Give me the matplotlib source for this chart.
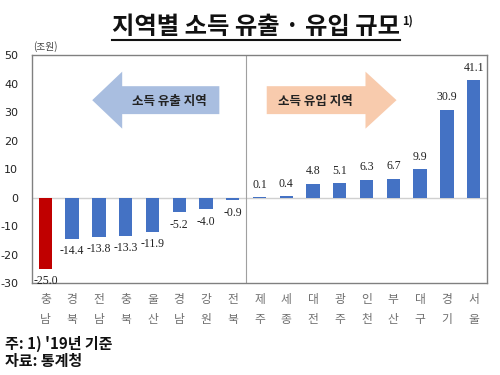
import matplotlib
matplotlib.use("Agg")
import matplotlib.pyplot as plt
from matplotlib.patches import FancyArrow
from matplotlib.lines import Line2D

plt.rcParams['font.family'] = ['Noto Sans CJK KR', 'DejaVu Sans']

regions = ["충\n남", "경\n북", "전\n남", "충\n북", "울\n산", "경\n남", "강\n원", "전\n북",
           "제\n주", "세\n종", "대\n전", "광\n주", "인\n천", "부\n산", "대\n구", "경\n기", "서\n울"]
values = [-25.0, -14.4, -13.8, -13.3, -11.9, -5.2, -4.0, -0.9,
          0.1, 0.4, 4.8, 5.1, 6.3, 6.7, 9.9, 30.9, 41.1]
yticks = [50, 40, 30, 20, 10, 0, -10, -20, -30]

fig = plt.figure(figsize=(5, 3.75), dpi=100)
ax = fig.add_axes([0.064, 0.245, 0.91, 0.608])

x = list(range(len(values)))
colors = ['#C00000'] + ['#4472C4'] * (len(values) - 1)
ax.bar(x, values, width=0.5, color=colors, zorder=3)

ax.set_xlim(-0.5, len(values) - 0.5)
ax.set_ylim(-30, 50)
ax.set_yticks(yticks)
ax.set_yticklabels([str(v) for v in yticks], fontsize=8, family=['DejaVu Sans'], color='#222222')
ax.tick_params(axis='y', length=0, pad=10)
ax.set_xticks(x)
ax.set_xticklabels(regions, fontsize=8.5, color='#707070', linespacing=1.75)
ax.tick_params(axis='x', length=0, pad=7)

for s in ax.spines.values():
    s.set_color('#808080')
    s.set_linewidth(1.0)

ax.axhline(0, color='#D0D0D0', lw=1, zorder=2)
ax.axvline(7.5, color='#A0A0A0', lw=0.8, zorder=2)

for xi, v in zip(x, values):
    off = 9 if v > 0 else -9
    ax.annotate(f"{v:.1f}", (xi, v), xytext=(0, off), textcoords='offset points',
                ha='center', va='center', fontsize=8.5, family=['Liberation Serif'],
                color='#222222', zorder=4)

# arrows
ax.add_patch(FancyArrow(6.5, 34.2, -4.75, 0, width=9.8, head_width=20, head_length=1.12,
                        length_includes_head=True, color='#A9BEE0', lw=0, zorder=1))
ax.add_patch(FancyArrow(8.27, 34.2, 4.85, 0, width=9.8, head_width=20, head_length=1.16,
                        length_includes_head=True, color='#F8CBAD', lw=0, zorder=1))
ax.text(4.65, 33.8, "소득 유출 지역", ha='center', va='center', fontsize=9,
        fontweight='bold', color='#222222', zorder=2)
ax.text(10.1, 33.8, "소득 유입 지역", ha='center', va='center', fontsize=9,
        fontweight='bold', color='#222222', zorder=2)

# unit label
fig.text(33 / 500, 1 - 47 / 375, "(조원)", fontsize=7, color='#444444', ha='left', va='center')

# title
fig.text(256 / 500, 1 - 27 / 375, "지역별 소득 유출 · 유입 규모", fontsize=17.5, fontweight='bold',
         ha='center', va='center', color='#111111')
fig.text(402 / 500, 1 - 21 / 375, "1)", fontsize=8, fontweight='bold', ha='left', va='center',
         color='#111111')
fig.add_artist(Line2D([112 / 500, 400 / 500], [1 - 40 / 375, 1 - 40 / 375], color='#111111', lw=1.5))

# footnotes
fig.text(5 / 500, 1 - 344 / 375, "주: 1) '19년 기준", fontsize=10.8, fontweight='bold',
         ha='left', va='center', color='#111111')
fig.text(5 / 500, 1 - 361 / 375, "자료: 통계청", fontsize=10.8, fontweight='bold',
         ha='left', va='center', color='#111111')

fig.savefig("out.png", dpi=100)
